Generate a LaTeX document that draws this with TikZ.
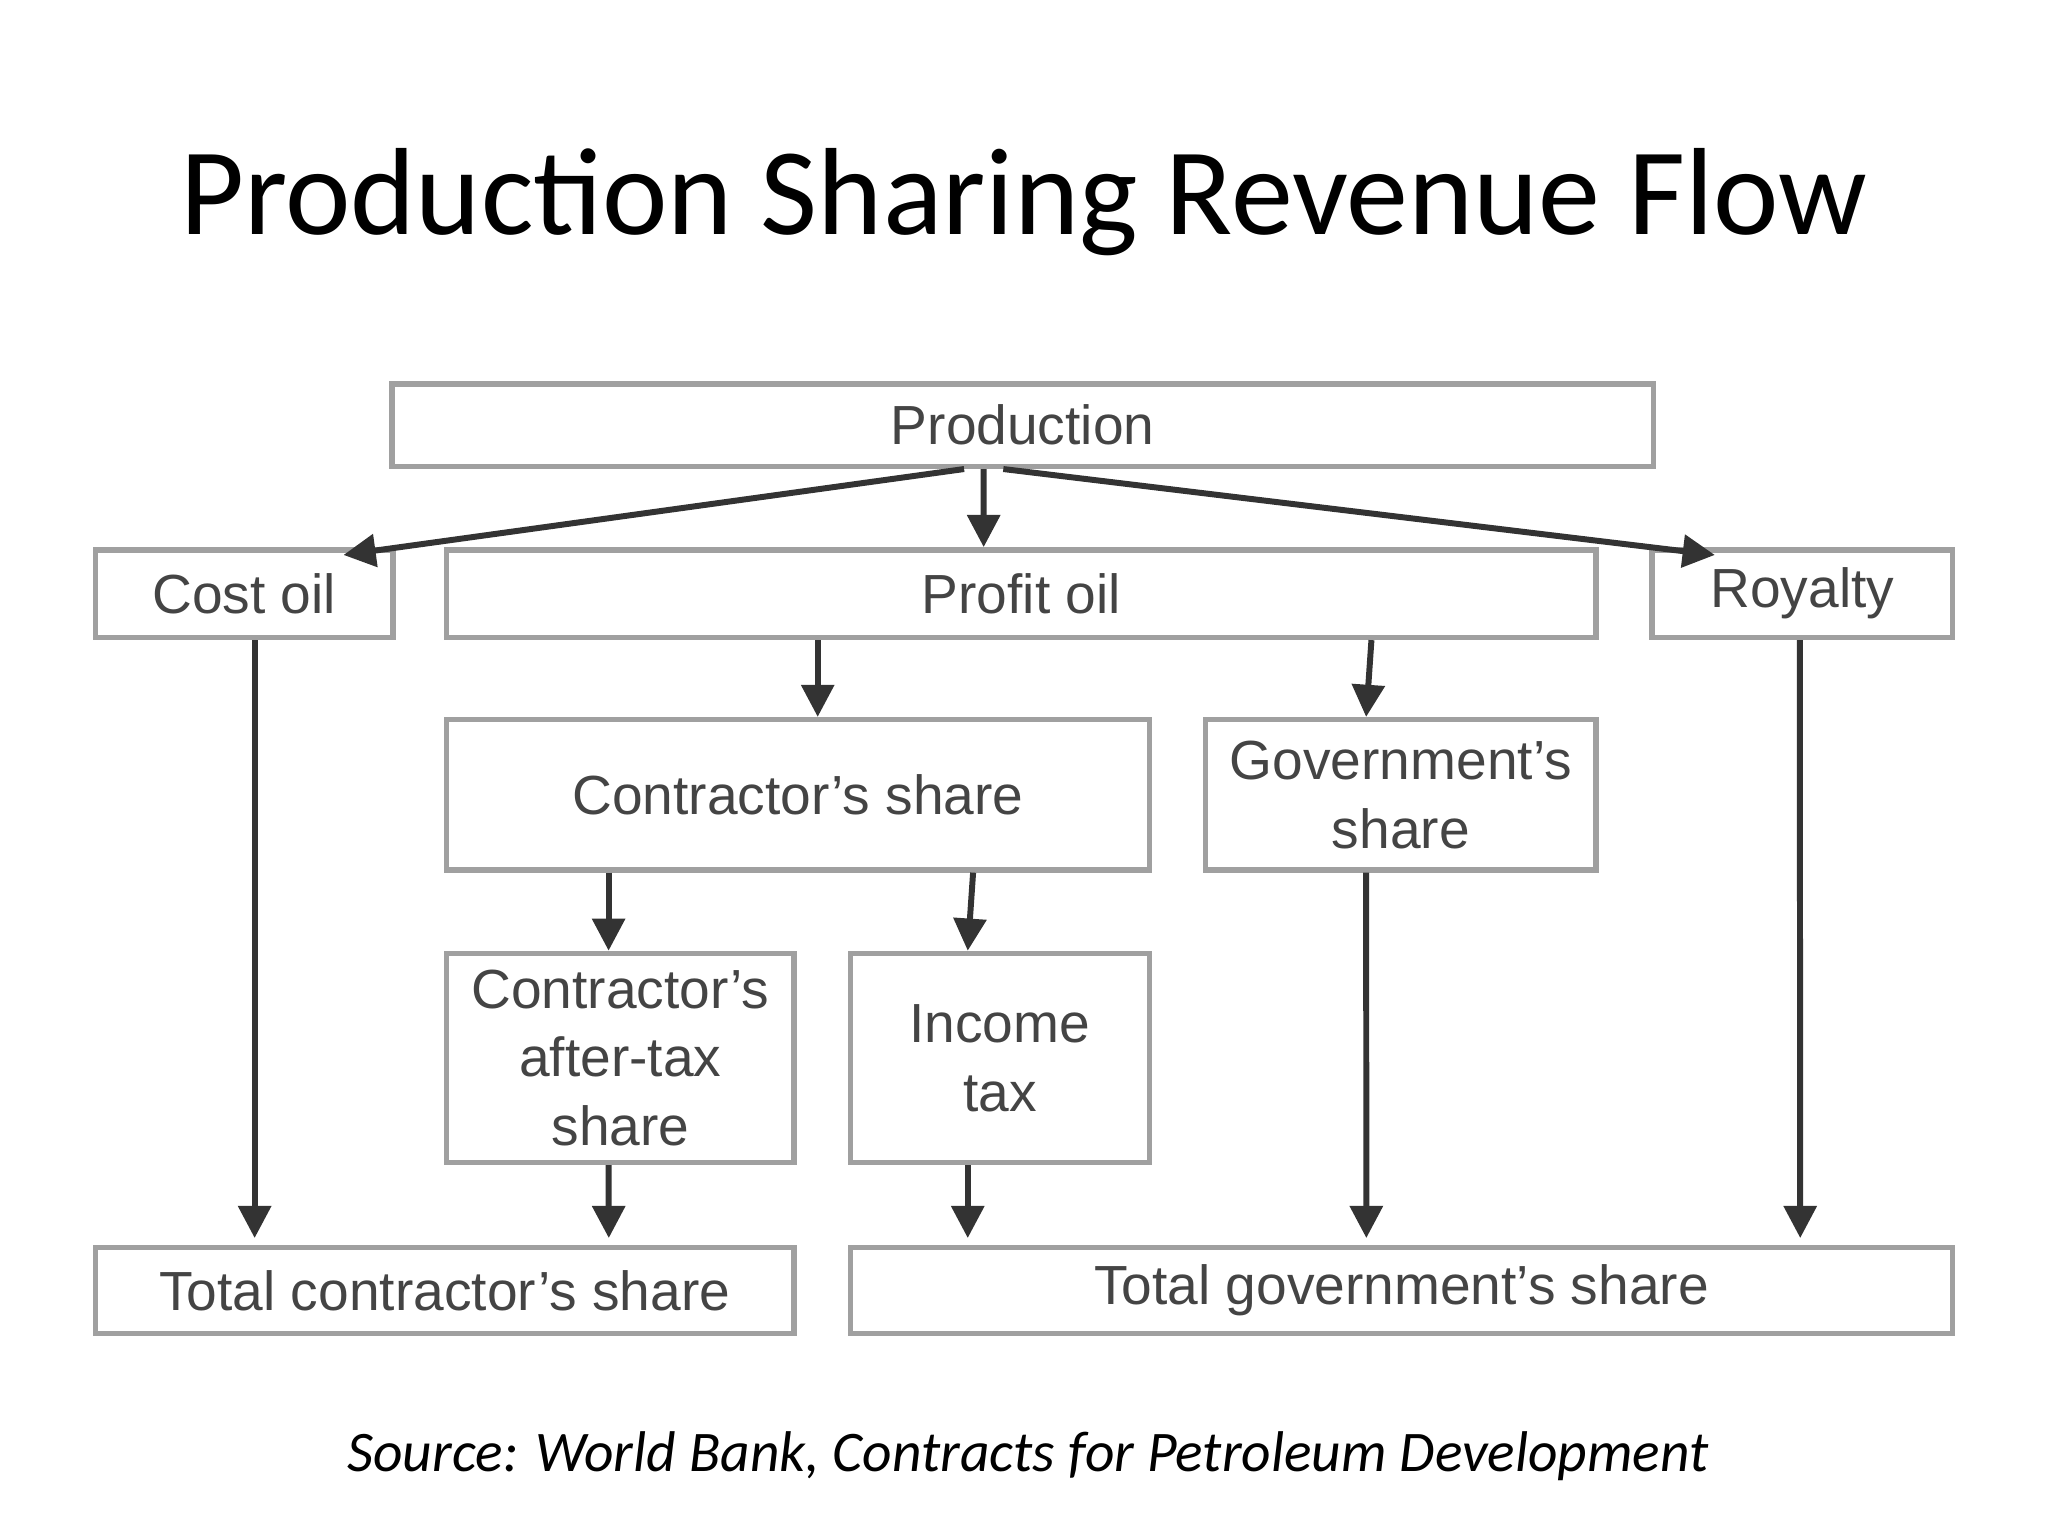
\documentclass[tikz,border=0pt]{standalone}
\usepackage{fontspec}
\setmainfont{Liberation Sans}
\newfontfamily\titlefont{Carlito}
\usetikzlibrary{arrows.meta}
\definecolor{boxline}{HTML}{A0A0A0}
\definecolor{boxtext}{HTML}{444444}
\definecolor{arrline}{HTML}{333333}
\tikzset{
  box/.style={draw=boxline,line width=1.2pt,inner sep=0pt,text=boxtext,align=center,font=\fontsize{12}{15}\selectfont},
  arr/.style={draw=arrline,line width=1.3pt,-{Triangle[length=7pt,width=7pt]}}
}
\newcommand{\mybox}[6]{\node[box,minimum width={(#4-#2)*0.01cm},minimum height={(#5-#3)*0.01cm}] (#1) at ({(#2+#4)/2},{(#3+#5)/2}) {#6};}
\begin{document}
\begin{tikzpicture}[x=0.01cm,y=-0.01cm]
\useasboundingbox (0,0) rectangle (1568,1176);
\node[font=\titlefont\fontsize{27}{32}\selectfont] (title) at (784,155) {Production Sharing Revenue Flow};
\mybox{prod}{300}{294}{1266}{357}{Production}
\mybox{cost}{73}{421}{301}{488}{Cost oil}
\mybox{profit}{342}{421}{1222}{488}{Profit oil}
\mybox{roy}{1265}{421}{1495}{488}{Royalty}
\mybox{cshare}{342}{551}{880}{666}{Contractor's share}
\mybox{gshare}{923}{551}{1222}{666}{Government's\\share}
\mybox{after}{342}{730}{608}{890}{Contractor's\\after-tax\\share}
\mybox{itax}{651}{730}{880}{890}{Income\\tax}
\mybox{tcon}{73}{955}{608}{1021}{Total contractor's share}
\mybox{tgov}{651}{955}{1495}{1021}{Total government's share}
\node[font=\titlefont\itshape\fontsize{12.5}{15}\selectfont] (src) at (787,1115) {Source: World Bank, Contracts for Petroleum Development};
% arrows
\draw[arr] ([xshift=4.4cm]prod.south west) -- ([xshift=1.92cm,yshift=-0.06cm]cost.north west);
\draw[arr] ([xshift=4.55cm]prod.south west) -- ([xshift=4.13cm]profit.north west);
\draw[arr] ([xshift=4.7cm]prod.south west) -- ([xshift=0.5cm,yshift=-0.06cm]roy.north west);
\draw[arr] ([xshift=2.86cm]profit.south west) -- ([xshift=2.86cm]cshare.north west);
\draw[arr] ([xshift=-1.74cm]profit.south east) -- ([xshift=1.25cm]gshare.north west);
\draw[arr] ([xshift=1.24cm]cost.south west) -- ([xshift=1.24cm,yshift=0.05cm]tcon.north west);
\draw[arr] ([xshift=1.15cm]roy.south west) -- ([xshift=7.29cm,yshift=0.05cm]tgov.north west);
\draw[arr] ([xshift=1.26cm]cshare.south west) -- ([xshift=1.26cm]after.north west);
\draw[arr] ([xshift=-1.37cm]cshare.south east) -- ([xshift=0.92cm]itax.north west);
\draw[arr] ([xshift=1.26cm]after.south west) -- ([xshift=3.95cm,yshift=0.05cm]tcon.north west);
\draw[arr] ([xshift=0.92cm]itax.south west) -- ([xshift=0.92cm,yshift=0.05cm]tgov.north west);
\draw[arr] ([xshift=1.25cm]gshare.south west) -- ([xshift=3.97cm,yshift=0.05cm]tgov.north west);
\end{tikzpicture}
\end{document}
